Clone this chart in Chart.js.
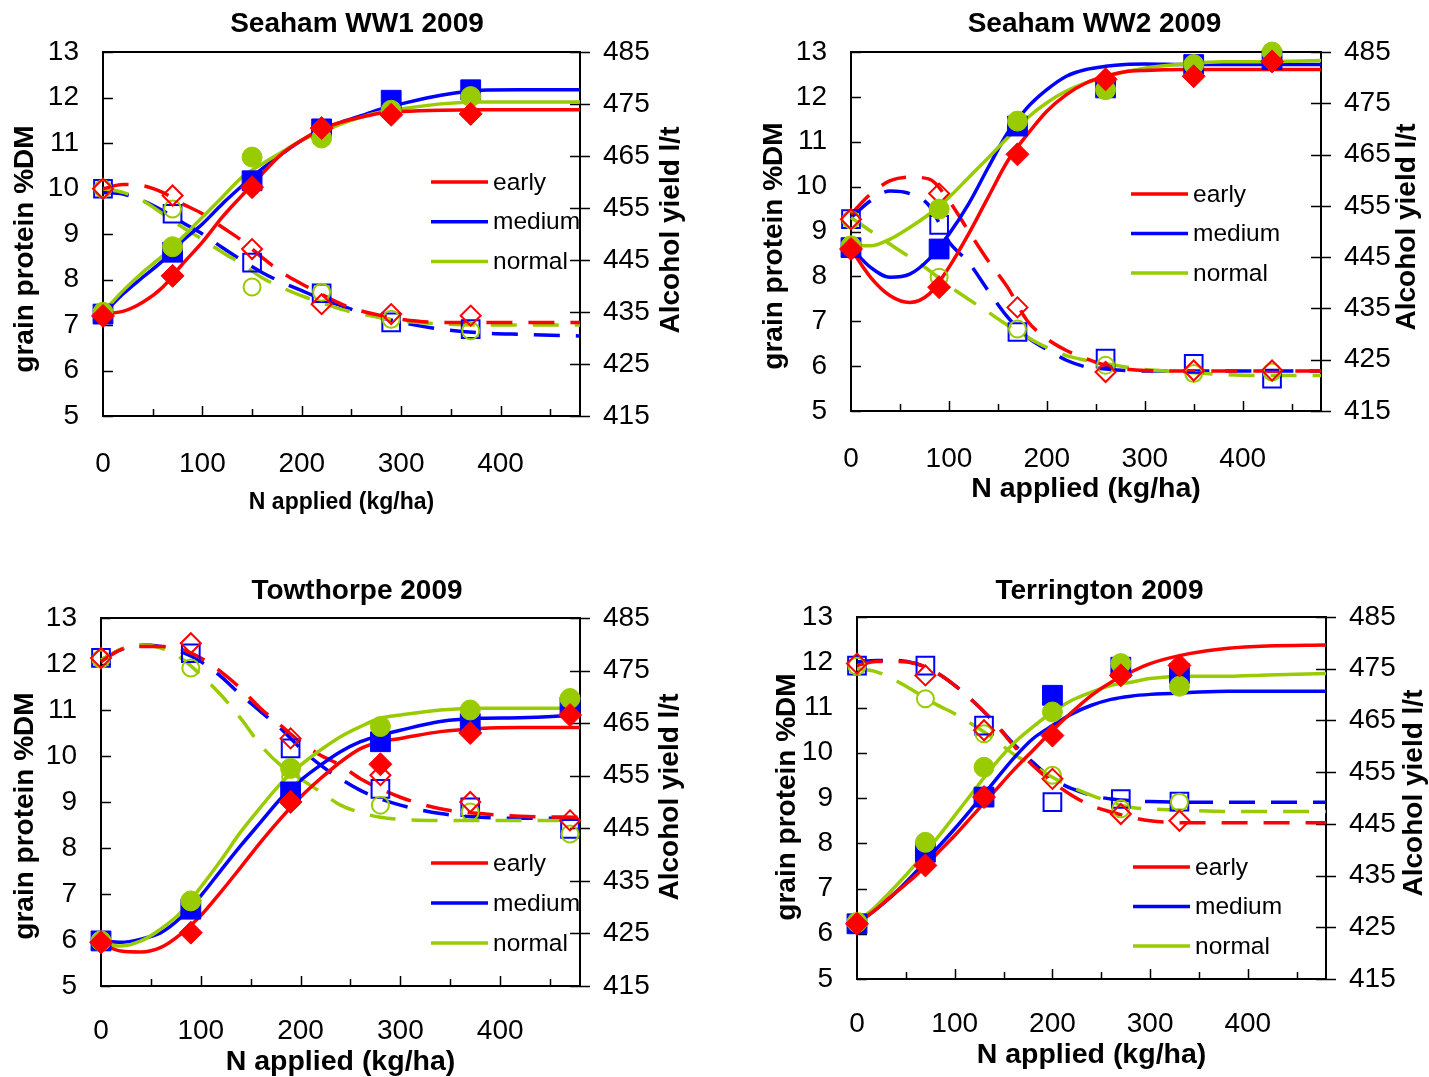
<!DOCTYPE html>
<html>
<head>
<meta charset="utf-8">
<title>Grain protein and alcohol yield 2009</title>
<script src="https://cdn.jsdelivr.net/npm/chart.js@4.4.1/dist/chart.umd.min.js"></script>
<style>
  body { margin: 0; background: #fff; }
  #page { position: relative; width: 1429px; height: 1077px; overflow: hidden; background: #fff; }
  .panel { position: absolute; }
  .panel canvas { display: block; }
</style>
</head>
<body>
<div id="page">
  <div class="panel" style="left:0px;top:0px"><canvas id="ww1" width="714" height="538"></canvas></div>
  <div class="panel" style="left:760px;top:0px"><canvas id="ww2" width="669" height="538"></canvas></div>
  <div class="panel" style="left:0px;top:538px"><canvas id="tow" width="714" height="539"></canvas></div>
  <div class="panel" style="left:770px;top:538px"><canvas id="ter" width="659" height="539"></canvas></div>
</div>
<script>
// axes
const xTicks = [0, 100, 200, 300, 400];
const xMarks = [50, 100, 150, 200, 250, 300, 350, 400, 450];
const proteinTicks = [5, 6, 7, 8, 9, 10, 11, 12, 13];
const alcoholTicks = [415, 425, 435, 445, 455, 465, 475, 485];
const treatments = ['early', 'medium', 'normal'];

// N rates where the fitted curves were read
const fitN = [0, 20, 40, 60, 80, 100, 120, 140, 160, 180, 200, 220, 240, 260, 280, 300, 340, 380, 420, 480];

// Seaham WW1 2009
const ww1N = [0, 70, 150, 220, 290, 370];
const ww1ProtEarly = [7.2, 8.08, 10.03, 11.33, 11.62, 11.64];
const ww1ProtMedium = [7.24, 8.6, 10.17, 11.31, 11.94, 12.17];
const ww1ProtNormal = [7.28, 8.72, 10.69, 11.11, 11.72, 12.02];
const ww1AlcEarly = [458.7, 457.4, 447.1, 436.5, 434.6, 434.3];
const ww1AlcMedium = [458.7, 453.9, 444.5, 438.6, 433.0, 431.7];
const ww1AlcNormal = [458.7, 454.8, 439.8, 438.8, 433.6, 431.4];
const ww1FitProtEarly = [7.25, 7.3, 7.5, 7.83, 8.34, 8.82, 9.37, 9.85, 10.32, 10.76, 11.06, 11.31, 11.46, 11.57, 11.66, 11.69, 11.72, 11.73, 11.73, 11.73];
const ww1FitProtMedium = [7.24, 7.68, 8.05, 8.41, 8.85, 9.22, 9.66, 10.06, 10.43, 10.76, 11.06, 11.28, 11.46, 11.6, 11.75, 11.86, 12.05, 12.16, 12.17, 12.17];
const ww1FitProtNormal = [7.28, 7.75, 8.16, 8.52, 8.93, 9.37, 9.81, 10.25, 10.54, 10.8, 11.06, 11.24, 11.42, 11.57, 11.68, 11.75, 11.86, 11.9, 11.9, 11.9];
const ww1FitAlcEarly = [458.7, 459.5, 459.3, 458, 455.8, 453.9, 451.3, 448.7, 445.5, 442.6, 440.4, 438.4, 436.5, 435.2, 434.3, 433.6, 433, 433, 433, 433];
const ww1FitAlcMedium = [458, 457.7, 456.4, 454.5, 452.2, 450, 447.4, 444.9, 442.6, 440.7, 439.1, 437.5, 436.2, 434.9, 433.9, 433, 431.7, 431, 430.7, 430.4];
const ww1FitAlcNormal = [458.7, 458, 456.4, 453.9, 451.3, 449, 446.5, 444.2, 441.6, 439.7, 438.1, 436.8, 435.5, 434.6, 433.9, 433.3, 432.7, 432.5, 432.5, 432.5];

// Seaham WW2 2009
const ww2N = [0, 90, 170, 260, 350, 430];
const ww2ProtEarly = [8.61, 7.76, 10.72, 12.39, 12.46, 12.79];
const ww2ProtMedium = [8.64, 8.61, 11.35, 12.2, 12.72, 12.83];
const ww2ProtNormal = [8.68, 9.5, 11.46, 12.16, 12.72, 13.0];
const ww2AlcEarly = [452.4, 457.4, 435.2, 422.6, 422.9, 422.9];
const ww2AlcMedium = [452.4, 451.3, 430.4, 425.2, 424.2, 421.3];
const ww2AlcNormal = [452.3, 441.1, 431.0, 423.9, 422.3, 422.6];
const ww2FitProtEarly = [8.61, 7.98, 7.57, 7.42, 7.61, 8.2, 8.94, 9.76, 10.57, 11.16, 11.68, 12.05, 12.31, 12.46, 12.56, 12.59, 12.61, 12.61, 12.61, 12.61];
const ww2FitProtMedium = [8.64, 8.2, 7.98, 8.05, 8.39, 8.94, 9.61, 10.42, 11.2, 11.76, 12.16, 12.46, 12.61, 12.68, 12.72, 12.73, 12.72, 12.72, 12.72, 12.72];
const ww2FitProtNormal = [8.68, 8.68, 8.83, 9.09, 9.39, 9.76, 10.2, 10.64, 11.09, 11.53, 11.87, 12.13, 12.31, 12.44, 12.56, 12.64, 12.73, 12.78, 12.78, 12.81];
const ww2FitAlcEarly = [453.4, 457.3, 459.9, 460.6, 460.2, 456, 450.1, 444.3, 439.1, 432.6, 429.1, 426.8, 425.2, 423.9, 423.2, 422.9, 422.8, 422.8, 422.8, 422.8];
const ww2FitAlcMedium = [452.7, 456, 457.9, 457.4, 455, 448, 444, 438.5, 433.3, 429.4, 427, 424.9, 423.6, 423.2, 422.9, 422.8, 422.8, 422.8, 422.8, 422.8];
const ww2FitAlcNormal = [452.7, 450.1, 447.5, 445, 442.4, 439.4, 436.8, 434.3, 431.7, 429.4, 427.4, 425.8, 424.9, 424.2, 423.6, 423.1, 422.6, 422.1, 421.9, 421.9];

// Towthorpe 2009
const towN = [0, 90, 190, 280, 370, 470];
const towProtEarly = [5.95, 6.16, 9.0, 9.82, 10.5, 10.89];
const towProtMedium = [5.98, 6.67, 9.22, 10.31, 10.71, 11.07];
const towProtNormal = [5.98, 6.85, 9.73, 10.64, 11.0, 11.25];
const towAlcEarly = [477.4, 480.2, 462.1, 455.1, 450.0, 446.5];
const towAlcMedium = [477.4, 478.3, 460.2, 452.5, 449.0, 444.9];
const towAlcNormal = [477.2, 475.5, 454.8, 449.4, 448.1, 443.9];
const towFitProtEarly = [5.91, 5.76, 5.74, 5.84, 6.13, 6.53, 7.04, 7.58, 8.13, 8.64, 9.11, 9.51, 9.87, 10.16, 10.31, 10.38, 10.53, 10.6, 10.62, 10.62];
const towFitProtMedium = [5.98, 5.95, 6.02, 6.16, 6.49, 6.96, 7.51, 8.05, 8.56, 9.07, 9.47, 9.8, 10.09, 10.31, 10.45, 10.56, 10.75, 10.82, 10.83, 10.89];
const towFitProtNormal = [5.91, 5.87, 5.98, 6.24, 6.6, 7.15, 7.73, 8.35, 8.89, 9.4, 9.8, 10.13, 10.42, 10.64, 10.82, 10.89, 11.0, 11.04, 11.04, 11.04];
const towFitAlcEarly = [476.7, 479, 479.6, 479.6, 479.1, 477.4, 474.8, 471.6, 467.8, 464.6, 461.4, 458.9, 457, 454.4, 452.5, 450.9, 448.7, 447.8, 447.3, 447.1];
const towFitAlcMedium = [477, 479, 479.9, 479.6, 478.6, 476.7, 473.9, 470.4, 467.2, 464, 460.2, 457, 454.4, 452.2, 450.6, 449.4, 447.8, 447.1, 446.9, 446.9];
const towFitAlcNormal = [477, 479.1, 479.9, 479.3, 477.4, 474.2, 470.4, 465.9, 460.8, 457, 454.4, 451.9, 449.4, 448, 447.1, 446.7, 446.5, 446.5, 446.5, 446.5];

// Terrington 2009
const terN = [0, 70, 130, 200, 270, 330];
const terProtEarly = [6.22, 7.51, 9.02, 10.38, 11.71, 11.93];
const terProtMedium = [6.22, 7.8, 9.02, 11.27, 11.89, 11.75];
const terProtNormal = [6.25, 8.02, 9.68, 10.9, 11.97, 11.47];
const terAlcEarly = [476.0, 473.7, 463.1, 453.7, 446.9, 445.6];
const terAlcMedium = [475.6, 475.6, 464.0, 449.2, 449.8, 449.3];
const terAlcNormal = [475.5, 469.2, 462.4, 454.4, 447.9, 449.2];
const terFitProtEarly = [6.22, 6.55, 6.92, 7.28, 7.73, 8.17, 8.65, 9.13, 9.61, 10.05, 10.49, 10.9, 11.27, 11.56, 11.78, 11.97, 12.19, 12.31, 12.36, 12.38];
const terFitProtMedium = [6.22, 6.55, 6.92, 7.36, 7.84, 8.32, 8.83, 9.35, 9.87, 10.31, 10.6, 10.86, 11.05, 11.18, 11.25, 11.29, 11.33, 11.36, 11.36, 11.36];
const terFitProtNormal = [6.25, 6.62, 7.06, 7.54, 8.06, 8.61, 9.17, 9.72, 10.2, 10.57, 10.9, 11.16, 11.34, 11.49, 11.56, 11.64, 11.69, 11.69, 11.72, 11.75];
const terFitAlcEarly = [475.6, 476.4, 476.4, 476, 474.4, 471.8, 468.5, 464.7, 460.2, 456.3, 453.1, 450.5, 448.5, 447.3, 446.3, 445.6, 445.2, 445.2, 445.2, 445.2];
const terFitAlcMedium = [476.3, 476.6, 476.6, 476, 474.4, 471.8, 468.5, 464.7, 460.5, 456.9, 453.7, 451.8, 450.5, 449.8, 449.5, 449.3, 449.2, 449.2, 449.2, 449.2];
const terFitAlcNormal = [475, 474.4, 472.7, 470.5, 468.2, 466.3, 464, 461.5, 458.5, 456.3, 454, 452.1, 450.5, 449.2, 448.2, 447.9, 447.6, 447.4, 447.4, 447.4];

const colours = ['#ff0000', '#0000ff', '#99cc00'];
const shapes = ['rectRot', 'rect', 'circle'];
const solidSizes = [11.5, 14, 10];
const openSizes = [10, 12.5, 8.5];
const fontFamily = "'Liberation Sans', Arial, sans-serif";

Chart.defaults.font.family = fontFamily;
Chart.defaults.color = '#000';

// frame, inside tick marks, rotated axis titles and the legend
const decorPlugin = {
  id: 'decor',
  beforeDatasetsDraw(chart) {
    const { ctx, chartArea: a, scales } = chart;
    ctx.save();
    ctx.strokeStyle = '#000';
    ctx.lineWidth = 1.5;
    ctx.beginPath();
    xMarks.forEach(v => {
      const px = Math.round(scales.x.getPixelForValue(v)) + 0.5;
      ctx.moveTo(px, a.bottom);
      ctx.lineTo(px, a.bottom - (v % 100 === 0 ? 10 : 7));
    });
    proteinTicks.forEach(v => {
      const py = Math.round(scales.y.getPixelForValue(v)) + 0.5;
      ctx.moveTo(a.left, py);
      ctx.lineTo(a.left + 10, py);
    });
    alcoholTicks.forEach(v => {
      const py = Math.round(scales.y2.getPixelForValue(v)) + 0.5;
      ctx.moveTo(a.right - 10, py);
      ctx.lineTo(a.right + 10, py);
    });
    ctx.stroke();
    ctx.lineWidth = 2;
    ctx.strokeRect(a.left, a.top, a.right - a.left, a.bottom - a.top);
    ctx.restore();
  },
  afterDraw(chart, args, opts) {
    const { ctx, chartArea: a } = chart;
    const midY = (a.top + a.bottom) / 2;
    ctx.save();
    ctx.fillStyle = '#000';
    ctx.textAlign = 'center';
    ctx.textBaseline = 'middle';
    ctx.font = 'bold 28px ' + fontFamily;
    ctx.save();
    ctx.translate(a.left + opts.leftTitle[0], midY + opts.leftTitle[1]);
    ctx.rotate(-Math.PI / 2);
    ctx.fillText('grain protein %DM', 0, 0);
    ctx.restore();
    ctx.save();
    ctx.translate(a.right + opts.rightTitle[0], midY + opts.rightTitle[1]);
    ctx.rotate(-Math.PI / 2);
    ctx.fillText('Alcohol yield l/t', 0, 0);
    ctx.restore();

    ctx.textAlign = 'left';
    ctx.font = '24.5px ' + fontFamily;
    treatments.forEach((name, i) => {
      const x0 = a.left + opts.legend[0];
      const y = a.top + opts.legend[1] + i * opts.legend[2];
      ctx.strokeStyle = colours[i];
      ctx.lineWidth = 3.5;
      ctx.beginPath();
      ctx.moveTo(x0, y);
      ctx.lineTo(x0 + 57, y);
      ctx.stroke();
      ctx.fillText(name, x0 + 62, y + 1);
    });
    ctx.restore();
  }
};

function makeChart(id, title, n, prot, alc, fitProt, fitAlc, look) {
  const toPoints = (xs, ys) => xs.map((x, i) => ({ x: x, y: ys[i] }));
  const order = [0, 2, 1];
  const datasets = [];

  order.forEach(i => datasets.push({
    label: treatments[i] + ' protein',
    data: toPoints(n, prot[i]),
    yAxisID: 'y',
    showLine: false,
    pointStyle: shapes[i],
    pointRadius: solidSizes[i],
    pointBackgroundColor: colours[i],
    pointBorderColor: colours[i],
    pointBorderWidth: 1,
    clip: false
  }));
  order.forEach(i => datasets.push({
    label: treatments[i] + ' alcohol',
    data: toPoints(n, alc[i]),
    yAxisID: 'y2',
    showLine: false,
    pointStyle: shapes[i],
    pointRadius: openSizes[i],
    pointBackgroundColor: 'rgba(255,255,255,0)',
    pointBorderColor: colours[i],
    pointBorderWidth: 2,
    clip: false
  }));
  order.forEach(i => datasets.push({
    label: treatments[i] + ' protein fit',
    data: toPoints(fitN, fitProt[i]),
    yAxisID: 'y',
    borderColor: colours[i],
    borderWidth: 3.5,
    pointRadius: 0,
    cubicInterpolationMode: 'monotone',
    clip: false
  }));
  order.forEach(i => datasets.push({
    label: treatments[i] + ' alcohol fit',
    data: toPoints(fitN, fitAlc[i]),
    yAxisID: 'y2',
    borderColor: colours[i],
    borderWidth: 3.5,
    borderDash: [26, 16],
    pointRadius: 0,
    cubicInterpolationMode: 'monotone',
    clip: false
  }));

  const tickFont = { size: 28 };
  const fixedTicks = values => scale => { scale.ticks = values.map(v => ({ value: v })); };

  return new Chart(document.getElementById(id), {
    type: 'line',
    data: { datasets: datasets },
    options: {
      responsive: false,
      animation: false,
      layout: { padding: 0 },
      plugins: {
        legend: { display: false },
        tooltip: { enabled: false },
        title: {
          display: true,
          text: title,
          color: '#000',
          font: { size: 28, weight: 'bold' },
          padding: { top: look.titlePad[0], bottom: look.titlePad[1] }
        },
        decor: look
      },
      scales: {
        x: {
          type: 'linear',
          min: 0,
          max: 480,
          afterBuildTicks: fixedTicks(xTicks),
          afterFit: scale => { scale.height = look.xHeight; },
          grid: { display: false, drawTicks: false },
          border: { display: false },
          ticks: { font: tickFont, padding: look.xTickPad, maxRotation: 0, autoSkip: false },
          title: {
            display: true,
            text: 'N applied (kg/ha)',
            color: '#000',
            font: { size: look.xTitleSize, weight: 'bold' },
            padding: { top: 0, bottom: look.xTitlePad }
          }
        },
        y: {
          position: 'left',
          min: 5,
          max: 13,
          afterBuildTicks: fixedTicks(proteinTicks),
          afterFit: scale => { scale.width = look.yWidth; },
          grid: { display: false, drawTicks: false },
          border: { display: false },
          ticks: { font: tickFont, padding: 24 }
        },
        y2: {
          position: 'right',
          min: 415,
          max: 485,
          afterBuildTicks: fixedTicks(alcoholTicks),
          afterFit: scale => { scale.width = look.y2Width; },
          grid: { display: false, drawTicks: false },
          border: { display: false },
          ticks: { font: tickFont, padding: 23 }
        }
      }
    },
    plugins: [decorPlugin]
  });
}

makeChart('ww1', 'Seaham WW1 2009', ww1N,
  [ww1ProtEarly, ww1ProtMedium, ww1ProtNormal],
  [ww1AlcEarly, ww1AlcMedium, ww1AlcNormal],
  [ww1FitProtEarly, ww1FitProtMedium, ww1FitProtNormal],
  [ww1FitAlcEarly, ww1FitAlcMedium, ww1FitAlcNormal],
  { yWidth: 103, y2Width: 134, xHeight: 122, titlePad: [7, 11.4], xTickPad: 31, xTitleSize: 23, xTitlePad: 22,
    leftTitle: [-77.5, 15], rightTitle: [91, -4], legend: [328, 130, 39.7] });

makeChart('ww2', 'Seaham WW2 2009', ww2N,
  [ww2ProtEarly, ww2ProtMedium, ww2ProtNormal],
  [ww2AlcEarly, ww2AlcMedium, ww2AlcNormal],
  [ww2FitProtEarly, ww2FitProtMedium, ww2FitProtNormal],
  [ww2FitAlcEarly, ww2FitAlcMedium, ww2FitAlcNormal],
  { yWidth: 91, y2Width: 108, xHeight: 127, titlePad: [7, 11.4], xTickPad: 31, xTitleSize: 28.5, xTitlePad: 32,
    leftTitle: [-77, 14.5], rightTitle: [86, -4.5], legend: [280, 142, 39.5] });

makeChart('tow', 'Towthorpe 2009', towN,
  [towProtEarly, towProtMedium, towProtNormal],
  [towAlcEarly, towAlcMedium, towAlcNormal],
  [towFitProtEarly, towFitProtMedium, towFitProtNormal],
  [towFitAlcEarly, towFitAlcMedium, towFitAlcNormal],
  { yWidth: 101, y2Width: 134, xHeight: 91, titlePad: [36.2, 10.2], xTickPad: 28, xTitleSize: 28.5, xTitlePad: -2,
    leftTitle: [-76, 14], rightTitle: [90, -5], legend: [330, 245, 40] });

makeChart('ter', 'Terrington 2009', terN,
  [terProtEarly, terProtMedium, terProtNormal],
  [terAlcEarly, terAlcMedium, terAlcNormal],
  [terFitProtEarly, terFitProtMedium, terFitProtNormal],
  [terFitAlcEarly, terFitAlcMedium, terFitAlcNormal],
  { yWidth: 87, y2Width: 103, xHeight: 98, titlePad: [36.2, 9.2], xTickPad: 28, xTitleSize: 28.5, xTitlePad: 5,
    leftTitle: [-70, -1], rightTitle: [88, -5], legend: [276, 250, 39.5] });
</script>
</body>
</html>
